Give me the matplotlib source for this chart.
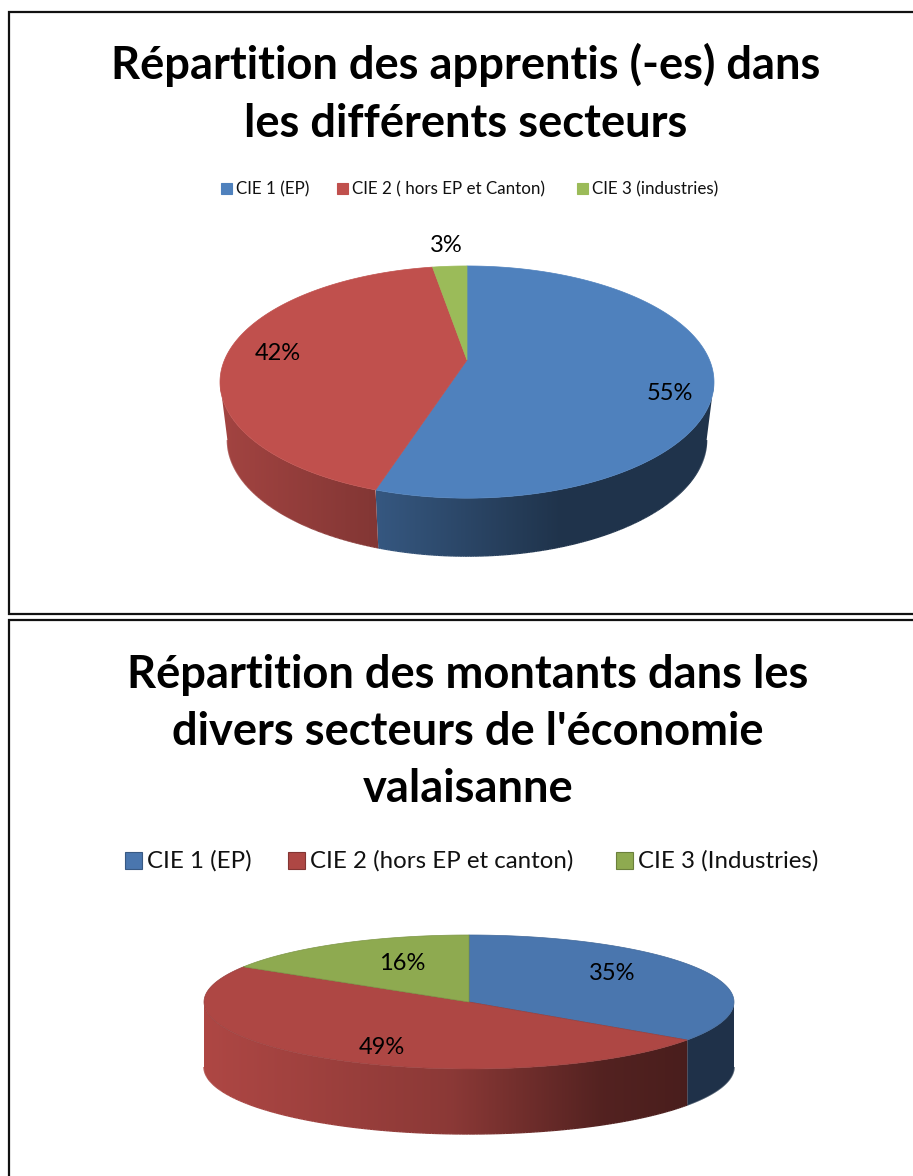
# -*- coding: utf-8 -*-
import numpy as np
from matplotlib import pyplot as plt
from matplotlib.collections import LineCollection
from matplotlib.patches import Polygon, Rectangle

W = 913
H = 1176

title_a = "Répartition des apprentis (-es) dans\nles différents secteurs"
labels_a = ["CIE 1 (EP)", "CIE 2 ( hors EP et Canton)", "CIE 3 (industries)"]
values_a = [55.0, 42.3, 2.7]

title_b = "Répartition des montants dans les\ndivers secteurs de l'économie\nvalaisanne"
labels_b = ["CIE 1 (EP)", "CIE 2 (hors EP et canton)", "CIE 3 (Industries)"]
values_b = [34.6, 49.2, 16.2]

colors_a = ["#4f81bd", "#c0504d", "#9bbb59"]
colors_b = ["#4a76ae", "#ae4744", "#8eaa50"]

plt.rcParams['font.family'] = ['Lato', 'DejaVu Sans']


def rim( t, cx, cy, sx, a, c ) :
    # t = clockwise angle from the top, c = perspective strength
    X = np.sin( t )
    Y = np.cos( t )
    d = 1 + c * Y
    return cx + sx * X / d, ( cy - a * Y ) / d


def shade( color, u, stops ) :
    rgb = np.array( plt.matplotlib.colors.to_rgb( color ) )
    f = np.interp( u, stops[0], stops[1] )
    return np.clip( rgb[None, :] * np.reshape( f, (-1, 1) ), 0, 1 )


def pie3d( ax, values, colors, cx, cy, sx, a, c, depth, shrink, stops, edge ) :
    fr = np.cumsum( [0] + list( values ) ) / sum( values ) * 2 * np.pi
    width = sx / np.sqrt( 1 - c * c )

    # front half of the rim, between its two widest points
    t_right = np.arccos( -c )
    t_left = 2 * np.pi - t_right

    # side wall first
    for k in range( len( values ) ) :
        lo = max( fr[k], t_right )
        hi = min( fr[k + 1], t_left )
        if hi <= lo :
            continue
        t = np.linspace( lo, hi, 200 )
        x, y = rim( t, cx, cy, sx, a, c )
        xb = cx + ( x - cx ) * shrink
        yb = y + depth

        x0 = min( x.min(), xb.min() )
        x1 = max( x.max(), xb.max() )
        grad = np.linspace( x0, x1, 400 )
        img = shade( colors[k], ( grad - cx ) / width, stops )[None, :, :]
        im = ax.imshow( img, extent=( x0, x1, yb.max(), y.min() ), aspect="auto", zorder=2, interpolation="bilinear" )
        shape = Polygon( list( zip( x, y ) ) + list( zip( xb[::-1], yb[::-1] ) ), closed=True, transform=ax.transData )
        im.set_clip_path( shape )

        # smooth the clipped lower edge
        pts = np.column_stack( [xb, yb] )
        segs = np.stack( [pts[:-1], pts[1:]], axis=1 )
        cols = shade( colors[k], ( xb[:-1] - cx ) / width, stops )
        ax.add_collection( LineCollection( segs, colors=cols, linewidths=1.0, zorder=2.5 ) )

    for k in range( len( values ) ) :
        t = np.linspace( fr[k], fr[k + 1], 200 )
        x, y = rim( t, cx, cy, sx, a, c )
        pts = [ (cx, cy) ] + list( zip( x, y ) )
        col = plt.matplotlib.colors.to_rgb( colors[k] )
        ec = tuple( v * edge for v in col )
        ax.add_patch( Polygon( pts, closed=True, facecolor=colors[k], edgecolor=ec, linewidth=0.5, zorder=3 ) )


def legend( ax, labels, colors, boxes, y, size, fs, gap, edge, dy ) :
    for k in range( len( labels ) ) :
        col = plt.matplotlib.colors.to_rgb( colors[k] )
        ec = tuple( v * edge for v in col )
        ax.add_patch( Rectangle( (boxes[k], y - size / 2), size, size, facecolor=colors[k], edgecolor=ec, linewidth=0.8 ) )
        ax.text( boxes[k] + size + gap, y + dy, labels[k], fontsize=fs, color="#111111", va="center", ha="left" )


fig = plt.figure( figsize=( W / 100, H / 100 ), dpi=100 )
ax = fig.add_axes( [0, 0, 1, 1] )

# frames, open on the right side
ax.plot( [W, 9, 9, W], [12, 12, 614, 614], color="#111111", lw=1.6, solid_joinstyle="miter" )
ax.plot( [9, 9, W], [H, 620, 620], color="#111111", lw=1.6, solid_joinstyle="miter" )

ax.text( 466, 94, title_a, fontsize=32.6, fontweight="bold", ha="center", va="center", linespacing=1.45, color="black" )
ax.text( 468, 732, title_b, fontsize=32.6, fontweight="bold", ha="center", va="center", linespacing=1.45, color="black" )

legend( ax, labels_a, colors_a, [221, 337, 577], 188, 11, 12.25, 4, 1.0, 1.5 )
legend( ax, labels_b, colors_b, [125, 288, 616], 860, 17, 17.3, 5, 0.75, 1 )

pie3d( ax, values_a, colors_a, 467, 360, 242.5, 43.5, 0.19, 58, 0.97,
       ( [-1, -0.37, 0.37, 1], [0.85, 0.68, 0.40, 0.40] ), 1.0 )
pie3d( ax, values_b, colors_b, 469, 1002, 265, 67, 0.0, 65, 1.0,
       ( [-1, -0.07, 0.5, 0.83, 1], [1.0, 0.8, 0.48, 0.42, 0.42] ), 0.88 )

pos_a = [ (670, 394), (278, 354), (446, 246) ]
pos_b = [ (612, 974), (382, 1048), (402, 964) ]
for k in range( 3 ) :
    ax.text( pos_a[k][0], pos_a[k][1], "%.0f%%" % values_a[k], fontsize=17, ha="center", va="center", color="black", zorder=5 )
    ax.text( pos_b[k][0], pos_b[k][1], "%.0f%%" % values_b[k], fontsize=17, ha="center", va="center", color="black", zorder=5 )

ax.set_xlim( 0, W )
ax.set_ylim( H, 0 )
ax.set_aspect( "auto" )
ax.axis( "off" )

fig.savefig( "out.png", dpi=100 )
